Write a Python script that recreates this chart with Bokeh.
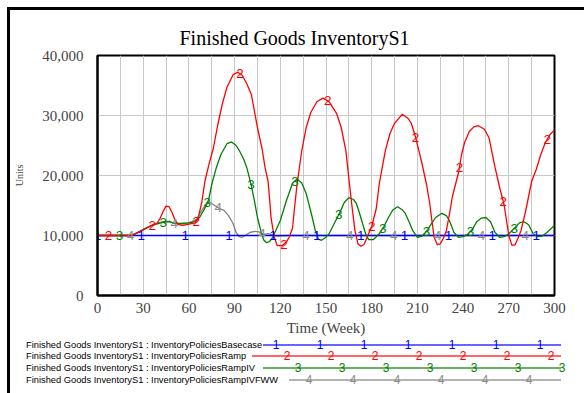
import numpy as np
from bokeh.plotting import figure
from bokeh.models import FixedTicker, NumeralTickFormatter, Range1d, Div
from bokeh.layouts import column
from bokeh.embed import file_html
from bokeh.resources import INLINE
from bokeh.core.properties import value

# ---------------- data ----------------
title_text = "Finished Goods InventoryS1"
x_label = "Time (Week)"
y_label = "Units"
x_tick_values = [0, 30, 60, 90, 120, 150, 180, 210, 240, 270, 300]
y_tick_values = [0, 10000, 20000, 30000, 40000]

legend_labels = [
    "Finished Goods InventoryS1 : InventoryPoliciesBasecase",
    "Finished Goods InventoryS1 : InventoryPoliciesRamp",
    "Finished Goods InventoryS1 : InventoryPoliciesRampIV",
    "Finished Goods InventoryS1 : InventoryPoliciesRampIVFWW",
]
marker_digits = ["1", "2", "3", "4"]

basecase_weeks = [0, 300]
basecase_units = [10000, 10000]

ramp_weeks = [0, 22, 25, 28, 31, 34, 36, 39, 41, 43, 45, 47, 49, 51, 53, 56, 60, 64, 66,
              68.5, 70.5, 73, 76, 79, 82, 85, 89, 92, 95, 98, 101, 105, 108, 110, 112, 113,
              114, 116, 118, 121, 124, 126, 128, 129.5, 131, 134, 137, 140, 144, 148, 152,
              157, 160, 163, 165, 167, 169, 171, 173, 175, 177, 180, 183, 185, 189, 192,
              195, 200, 204, 206, 209, 213, 216, 218, 219.5, 221, 223, 225, 227, 229, 231,
              233, 235, 237, 239, 241, 244, 247, 250, 254, 257, 261, 264, 267, 268.5, 270,
              272, 274, 276, 278, 281, 285, 288, 291, 294, 297, 300]
ramp_units = [10000, 10000, 10300, 10700, 11100, 11500, 11700, 12000, 12800, 14000, 14900,
              14800, 13800, 12500, 11800, 11700, 11900, 12100, 12800,
              15600, 19000, 21700, 24500, 28500, 32000, 34700, 36800, 37200, 36700, 35300,
              33500, 28000, 24500, 21300, 19000, 16000,
              12800, 9800, 8300, 8300, 8900, 9800, 11200, 15000, 18500, 24000, 28000, 30500,
              32300, 32900, 32300,
              30300, 28000, 24200, 19500, 15000, 10800, 8600, 8200, 8500, 9700, 11500, 14500,
              18700, 24200, 27000,
              28700, 30200, 29500, 28700, 26200, 22000, 18500, 15500, 12500, 9700, 8500, 8600,
              9500, 10800, 13500,
              16500, 18500, 20500, 23500, 25500, 27300, 28100, 28300, 27700, 26300, 21300,
              18000, 15000, 12500, 10000,
              8400, 8400, 9500, 10800, 14000, 19000, 21000, 23500, 25500, 26800, 27600]

rampiv_weeks = [0, 22, 25, 28, 31, 34, 37, 40, 43, 47, 50, 54, 60, 64, 67, 70, 73, 75, 78,
                81, 85, 88, 91, 93, 96, 98, 101, 103, 105, 107, 109, 111, 113, 115, 117, 120,
                124, 128, 131, 134, 137, 139, 141, 143, 145, 147, 150, 152, 156, 159, 162,
                165, 168, 170, 172, 174, 176, 178, 181, 185, 188, 191, 194, 197, 200, 202,
                205, 207, 210, 213, 216, 219, 222, 226, 229, 231, 234, 237, 240, 243, 246,
                249, 252, 255, 258, 261, 264, 267, 270, 274, 277, 280, 283, 286, 289, 292,
                295, 298, 300]
rampiv_units = [10000, 10000, 10300, 10700, 11100, 11500, 11800, 12000, 12200, 12300, 12100,
                12000, 12100, 12300, 13000, 14300, 16000, 18500, 21300,
                23500, 25300, 25600, 25000, 24200, 22700, 21300, 18300, 15800, 13000, 11000,
                9300, 8800, 9000, 9700, 10800, 12500,
                15800, 18700, 19400, 18800, 17000, 15000, 13000, 10800, 9400, 9200, 9700,
                10300, 12300, 13800, 15500,
                16300, 16000, 15300, 13700, 12000, 10300, 9300, 9300, 10300, 11500, 13000,
                14300, 14800, 14300, 13700,
                12000, 10800, 9700, 9900, 10700, 11900, 13000, 13700, 13300, 12500, 10500,
                9700, 9800, 10200, 11000,
                12300, 12900, 13000, 12300, 10500, 9700, 9800, 10300, 11300, 12100, 12300,
                11800, 10300, 9800, 9900,
                10500, 11200, 11700]

rampivfww_weeks = [0, 22, 25, 28, 31, 34, 37, 40, 43, 47, 50, 54, 58, 62, 65, 68, 71, 74, 77,
                   80, 83, 86, 89, 91, 93, 95, 97, 100, 103, 106, 109, 112, 115, 118, 125, 300]
rampivfww_units = [10000, 10000, 10300, 10700, 11100, 11500, 11900, 12100, 12300, 12400,
                   12000, 11900, 12000, 12300, 12700, 14000, 15200, 15500, 15000,
                   14500, 14200, 13300, 12000, 10500, 9800, 9700, 10000, 10500, 10700, 10600,
                   10200, 10300, 10100, 9900, 10000, 10000]

series = [
    (basecase_weeks, basecase_units, "#0000ff", "#0000ff"),
    (ramp_weeks, ramp_units, "#ff0000", "#ff0000"),
    (rampiv_weeks, rampiv_units, "#008000", "#008000"),
    (rampivfww_weeks, rampivfww_units, "#808080", "#8c8c8c"),
]

SERIF = "Liberation Serif"
SANS = "Liberation Sans"
marker_spacing = 28.8  # weeks between repeated series digits

# ---------------- main chart ----------------
W = 574
BL, BR, BT, BB = 87, 30, 45, 43
p = figure(frame_width=W - BL - BR, frame_height=240,
           x_range=Range1d(0, 300), y_range=Range1d(0, 40000),
           output_backend="svg", toolbar_location=None,
           min_border_left=BL, min_border_right=BR, min_border_top=BT, min_border_bottom=BB)

p.title.text = title_text
p.title.align = "left"
p.title.offset = 82
p.title.standoff = 13
p.title.text_font = SERIF
p.title.text_font_size = "20px"
p.title.text_font_style = "normal"
p.title.text_color = "#000000"

p.outline_line_color = "#000000"
p.outline_line_width = 2
p.background_fill_color = "#ffffff"
p.border_fill_color = "#ffffff"

xax = p.xaxis[0]
xax.ticker = FixedTicker(ticks=x_tick_values)
xax.axis_label = x_label
xax.axis_label_text_font = SERIF
xax.axis_label_text_font_style = "normal"
xax.axis_label_text_font_size = "15px"
xax.axis_label_standoff = 4
xax.major_label_text_font = SERIF
xax.major_label_text_font_size = "15px"
xax.major_label_standoff = 7
xax.major_tick_in = 0
xax.major_tick_out = 0
xax.minor_tick_line_color = None
xax.axis_line_width = 2
xax.axis_line_color = "#000000"

yax = p.yaxis[0]
yax.ticker = FixedTicker(ticks=y_tick_values)
yax.formatter = NumeralTickFormatter(format="0,0")
yax.axis_label = y_label
yax.axis_label_text_font = SERIF
yax.axis_label_text_font_style = "normal"
yax.axis_label_text_font_size = "10px"
yax.axis_label_standoff = 14
yax.major_label_text_font = SERIF
yax.major_label_text_font_size = "15px"
yax.major_label_standoff = 14
yax.major_tick_in = 0
yax.major_tick_out = 0
yax.minor_tick_line_color = None
yax.axis_line_width = 2
yax.axis_line_color = "#000000"

p.xgrid.ticker = FixedTicker(ticks=list(range(0, 301, 15)))
p.xgrid.grid_line_color = "#c8c8c8"
p.ygrid.ticker = FixedTicker(ticks=y_tick_values)
p.ygrid.grid_line_color = "#c8c8c8"

draw_order = [3, 0, 2, 1]
for k in draw_order:
    wk, un, col, _ = series[k]
    p.line(wk, un, line_color=col, line_width=1.3)

for k, (wk, un, col, mcol) in enumerate(series):
    mw = np.arange(k * marker_spacing / 4, 300.01, marker_spacing)
    mu = np.interp(mw, wk, un)
    p.text(mw, mu, text=[marker_digits[k]] * len(mw), text_color=mcol,
           text_font=value(SANS), text_font_size="13.5px",
           text_align="center", text_baseline="middle")

# ---------------- legend strip (inline SVG in a Div) ----------------
LH = 55
row_y = [7, 18, 30, 42]
text_x = 16
line_start = [253, 242, 253, 279]
line_end = 551
legend_marker_first = 266
legend_marker_step = 44

parts = [f'<svg xmlns="http://www.w3.org/2000/svg" width="{W}" height="{LH}" '
         f'style="display:block;overflow:visible">']
for k, (wk, un, col, mcol) in enumerate(series):
    y = row_y[k]
    parts.append(f'<line x1="{line_start[k]}" y1="{y}" x2="{line_end}" y2="{y}" '
                 f'stroke="{col}" stroke-opacity="0.6" stroke-width="2"/>')
    parts.append(f'<text x="{text_x}" y="{y}" dominant-baseline="central" '
                 f'font-family="{SERIF}" font-size="9.3px" fill="#000">{legend_labels[k]}</text>')
    for mx in np.arange(legend_marker_first + 11 * k, line_end + 1.5, legend_marker_step):
        parts.append(f'<text x="{mx:.1f}" y="{y}" dominant-baseline="central" '
                     f'text-anchor="middle" font-family="{SANS}" font-size="12px" '
                     f'fill="{mcol}">{marker_digits[k]}</text>')
parts.append('</svg>')
legend_div = Div(text="".join(parts), width=W, height=LH,
                 styles={"margin": "0", "padding": "0", "overflow": "visible"})

layout = column(p, legend_div, spacing=0,
                styles={"margin-left": "7px", "margin-top": "7px",
                        "border-left": "3px solid black", "border-top": "3px solid black"})

open("out.html", "w").write(file_html(layout, INLINE))
